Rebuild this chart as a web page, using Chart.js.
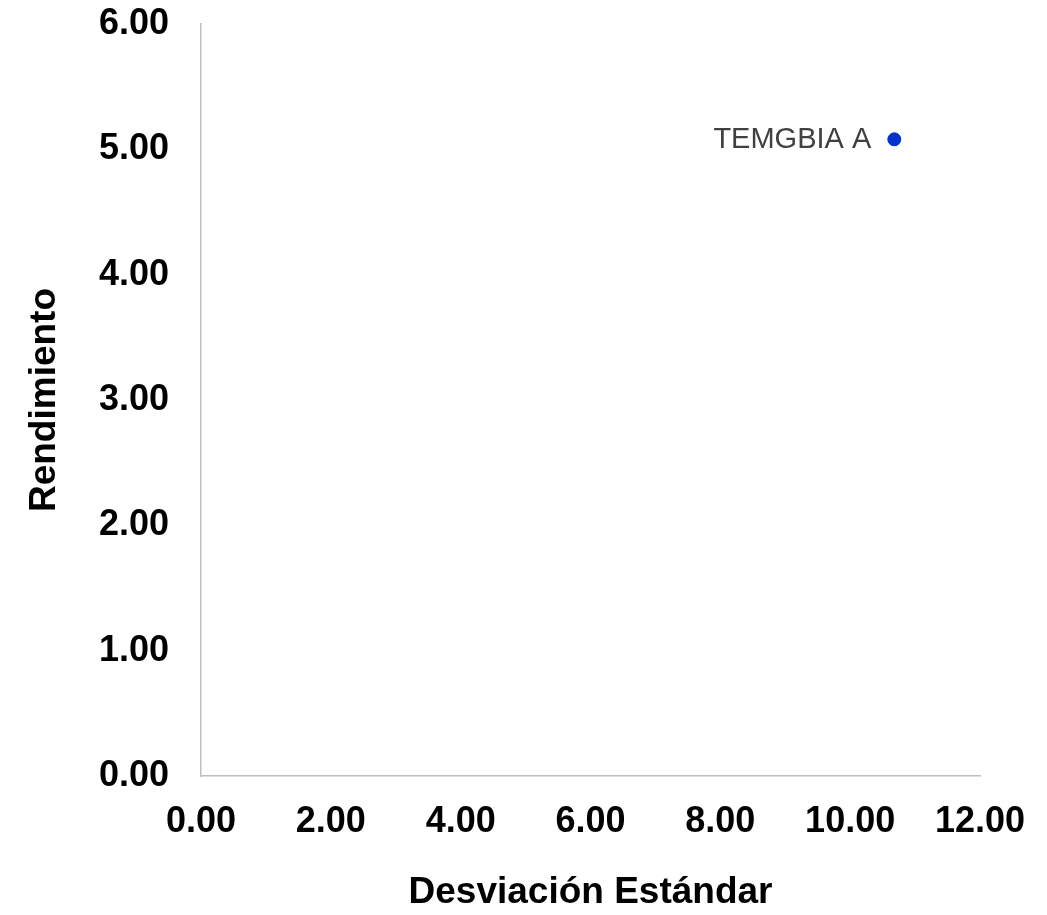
<!DOCTYPE html>
<html>
<head>
<meta charset="utf-8">
<script src="https://cdn.jsdelivr.net/npm/chart.js@4.4.1/dist/chart.umd.min.js"></script>
<style>
  html, body { margin: 0; padding: 0; background: #fff; }
  #wrap { width: 1047px; height: 915px; }
</style>
</head>
<body>
<div id="wrap"><canvas id="chart" width="1047" height="915"></canvas></div>
<script>
// data
const pointLabels = ['TEMGBIA A'];
const stdDev = [10.68];
const returns = [5.08];

const xTicks = { min: 0, max: 12, step: 2 };
const yTicks = { min: 0, max: 6, step: 1 };

const FONT = "'Liberation Sans', Arial, sans-serif";
const axisGrey = '#bfbfbf';

// draws the name of each point to its left, like the excel data labels
const pointLabelPlugin = {
  id: 'pointLabels',
  afterDatasetsDraw(chart) {
    const ctx = chart.ctx;
    const meta = chart.getDatasetMeta(0);
    ctx.save();
    ctx.font = '29px ' + FONT;
    ctx.fillStyle = '#404040';
    ctx.textAlign = 'right';
    ctx.textBaseline = 'middle';
    meta.data.forEach((pt, i) => {
      ctx.fillText(pointLabels[i], pt.x - 23, pt.y + 1);
    });
    ctx.restore();
  }
};

new Chart(document.getElementById('chart').getContext('2d'), {
  type: 'scatter',
  data: {
    datasets: [{
      label: 'Fondos',
      data: stdDev.map((x, i) => ({ x: x, y: returns[i] })),
      backgroundColor: '#0033cc',
      borderColor: '#0033cc',
      pointRadius: 6.5,
      pointHoverRadius: 6.5
    }]
  },
  options: {
    responsive: false,
    animation: false,
    devicePixelRatio: 1,
    layout: { padding: { top: 24, right: 67, left: 0, bottom: 0 } },
    plugins: {
      legend: { display: false },
      tooltip: { enabled: false }
    },
    scales: {
      x: {
        type: 'linear',
        min: xTicks.min,
        max: xTicks.max,
        grid: { color: 'rgba(0,0,0,0)', drawTicks: false },
        border: { display: true, color: axisGrey, width: 1.5 },
        ticks: {
          stepSize: xTicks.step,
          padding: 24,
          color: '#000',
          font: { family: FONT, size: 36, weight: 'bold' },
          callback: v => v.toFixed(2)
        },
        title: {
          display: true,
          text: 'Desviación Estándar',
          color: '#000',
          font: { family: FONT, size: 37, weight: 'bold' },
          padding: { top: 0, bottom: 0 }
        },
        afterFit(scale) {
          scale.height = 139;
          scale.paddingLeft = 0;
          scale.paddingRight = 0;
        }
      },
      y: {
        type: 'linear',
        min: yTicks.min,
        max: yTicks.max,
        grid: { color: 'rgba(0,0,0,0)', drawTicks: false },
        border: { display: true, color: axisGrey, width: 1.5 },
        ticks: {
          stepSize: yTicks.step,
          padding: 32,
          color: '#000',
          font: { family: FONT, size: 36, weight: 'bold' },
          callback: v => v.toFixed(2)
        },
        title: {
          display: true,
          text: 'Rendimiento',
          color: '#000',
          font: { family: FONT, size: 37, weight: 'bold' },
          padding: { top: 23, bottom: 0 }
        },
        afterFit(scale) {
          scale.width = 201;
          scale.paddingTop = 0;
          scale.paddingBottom = 0;
        }
      }
    }
  },
  plugins: [pointLabelPlugin]
});
</script>
</body>
</html>
